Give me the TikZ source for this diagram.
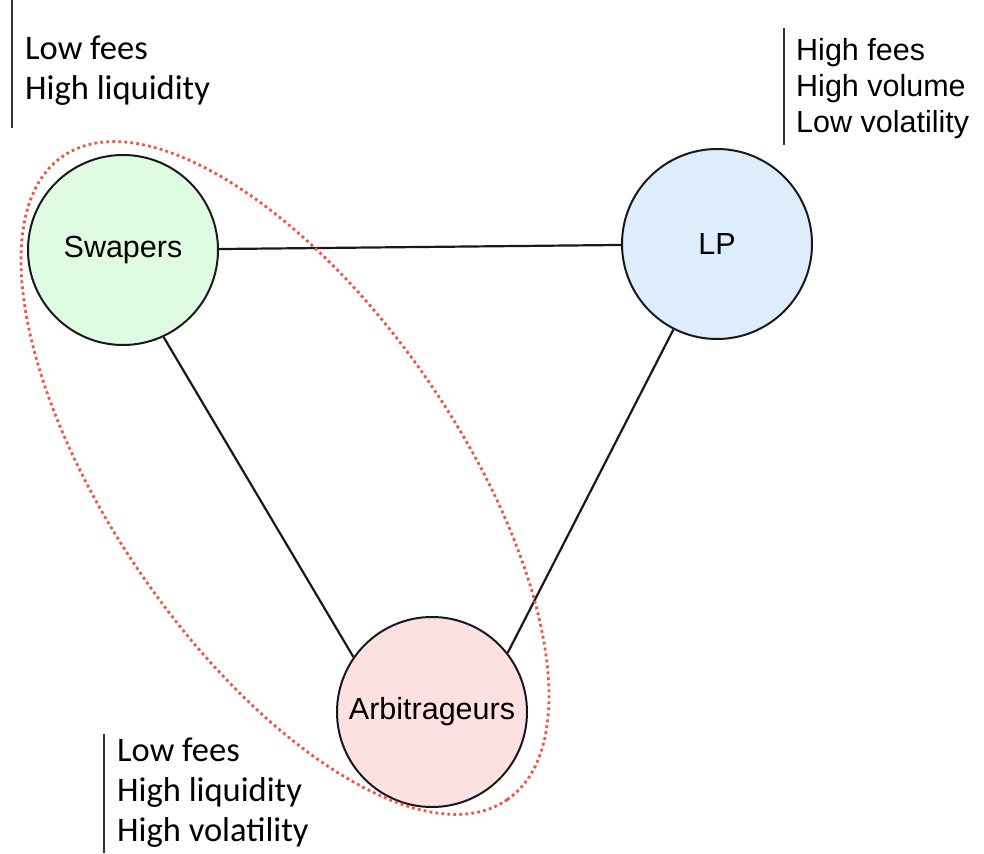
\documentclass[tikz,border=0pt]{standalone}
\usepackage{fontspec}
\setmainfont{Liberation Sans}
\newfontfamily\notefont{Carlito}

\definecolor{swapgreen}{HTML}{DFFBE2}
\definecolor{lpblue}{HTML}{DDEDFC}
\definecolor{arbpink}{HTML}{FDE0E0}
\definecolor{dotred}{HTML}{F8513F}

\tikzset{
  party/.style={circle,draw=black!90,line width=2pt,minimum size=190pt,inner sep=0pt,
    font=\fontsize{30.5}{36}\selectfont},
  link/.style={line width=2.2pt,draw=black!90},
  notebar/.style={line width=2.2pt,draw=black!80},
  notes/.style={anchor=north west,inner sep=0pt,align=left},
  group/.style={draw=dotred,line width=2.8pt,dash pattern=on 2.8pt off 3.2pt},
}

\begin{document}
\begin{tikzpicture}[x=1pt,y=-1pt]
\useasboundingbox (0,0) rectangle (984,853);

% parties
\node[party,fill=swapgreen] (swapers) at (123,250) {Swapers};
\node[party,fill=lpblue] (lp) at (717,244) {LP};
\node[party,fill=arbpink] (arb) at (432,712) {Arbitrageurs};

% links
\draw[link] (swapers) -- (lp);
\draw[link] (swapers.-65) -- (arb.145);
\draw[link] (lp.-117) -- (arb.38);

% group
\draw[group] (285,478) ellipse [x radius=391pt,y radius=173pt,rotate=-55.35];

% notes
\draw[notebar] (12,0) -- (12,128);
\node[notes,font=\notefont\fontsize{34.5}{40}\selectfont] (swapnotes) at (25,36) {Low fees\\High liquidity};
\draw[notebar] (784,28) -- (784,145);
\node[notes,font=\fontsize{30.5}{36}\selectfont] (lpnotes) at (796,38) {High fees\\High volume\\Low volatility};
\draw[notebar] (104,734) -- (104,853);
\node[notes,font=\notefont\fontsize{34.5}{40}\selectfont] (arbnotes) at (117,738) {Low fees\\High liquidity\\High volatility};

\end{tikzpicture}
\end{document}
